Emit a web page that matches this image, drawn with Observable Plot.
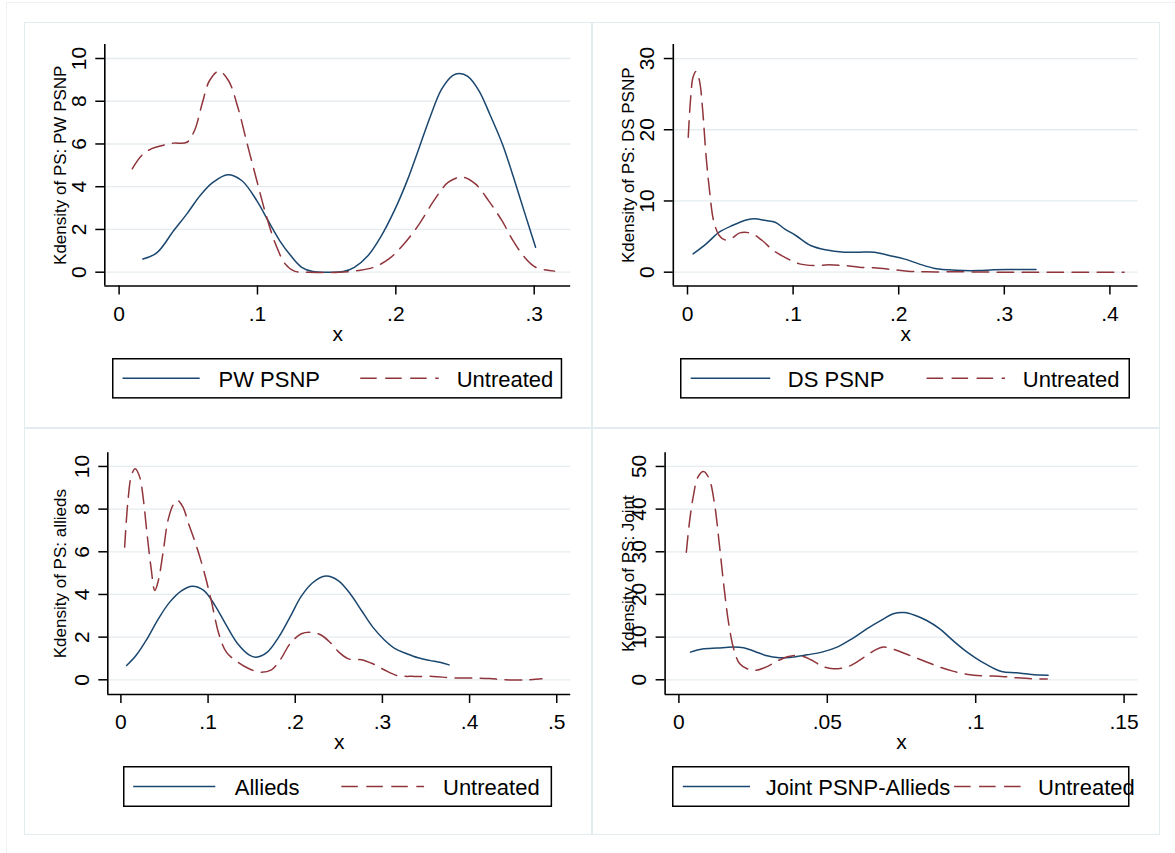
<!DOCTYPE html>
<html><head><meta charset="utf-8">
<script src="https://cdn.jsdelivr.net/npm/d3@7"></script>
<script src="https://cdn.jsdelivr.net/npm/@observablehq/plot@0.6"></script>
<style>
html,body{margin:0;padding:0;background:#fff;}
body{width:1175px;height:853px;position:relative;overflow:hidden;font-family:Arial,"Liberation Sans",sans-serif;}
.box{position:absolute;box-sizing:border-box;border:1.5px solid #e4ecef;}
</style></head><body>
<div class="box" style="left:5.5px;top:2px;width:1200px;height:900px;border-color:#edf2f4"></div>
<div class="box" style="left:24px;top:21.5px;width:568px;height:406px"></div>
<div class="box" style="left:591.5px;top:21.5px;width:568.5px;height:406px"></div>
<div class="box" style="left:24px;top:428px;width:568px;height:407px"></div>
<div class="box" style="left:591.5px;top:428px;width:568.5px;height:407px"></div>
<script>
// ---- data ----
const pwPsnp = [[0.0172,0.62],[0.0272,0.9],[0.0395,1.95],[0.049,2.73],[0.0586,3.59],[0.068,4.21],[0.0785,4.56],[0.0886,4.29],[0.0995,3.35],[0.1076,2.42],[0.116,1.48],[0.124,0.78],[0.132,0.23],[0.140,0.03],[0.151,0],[0.162,0.03],[0.170,0.23],[0.180,0.78],[0.189,1.64],[0.199,2.89],[0.208,4.25],[0.217,5.85],[0.225,7.3],[0.233,8.55],[0.241,9.2],[0.246,9.3],[0.252,9.16],[0.260,8.5],[0.268,7.38],[0.277,6.0],[0.285,4.45],[0.293,2.8],[0.301,1.17]];
const pwUntreated = [[0.0095,4.84],[0.0163,5.46],[0.0232,5.77],[0.0313,5.93],[0.0395,6.04],[0.049,6.08],[0.0545,6.63],[0.060,7.88],[0.0654,8.97],[0.0722,9.41],[0.079,8.97],[0.0858,7.72],[0.0926,6.0],[0.0995,4.29],[0.1063,2.65],[0.113,1.33],[0.120,0.39],[0.1267,0.05],[0.1376,0],[0.159,0],[0.173,0.08],[0.184,0.23],[0.195,0.62],[0.206,1.33],[0.217,2.26],[0.2275,3.35],[0.238,4.21],[0.248,4.45],[0.2575,4.13],[0.267,3.35],[0.2766,2.42],[0.2847,1.48],[0.293,0.70],[0.301,0.23],[0.3147,0.05]];
const dsPsnp = [[0.0053,2.57],[0.0177,3.98],[0.030,5.62],[0.0424,6.55],[0.0565,7.35],[0.0636,7.49],[0.0742,7.25],[0.083,7.02],[0.0919,6.08],[0.1025,5.15],[0.1166,3.74],[0.1307,3.14],[0.1484,2.81],[0.1625,2.81],[0.1767,2.81],[0.191,2.34],[0.205,1.87],[0.219,1.17],[0.2332,0.56],[0.2473,0.33],[0.2615,0.23],[0.2756,0.23],[0.29,0.33],[0.304,0.37],[0.318,0.37],[0.330,0.37]];
const dsUntreated = [[0.0007,18.95],[0.0028,24.1],[0.0053,27.4],[0.0081,28.2],[0.0113,26.9],[0.0141,23.2],[0.0177,16.1],[0.0212,11.0],[0.0247,7.25],[0.030,5.15],[0.0353,4.54],[0.0424,4.82],[0.0495,5.52],[0.0601,5.47],[0.0707,4.45],[0.0813,3.04],[0.0919,2.11],[0.106,1.17],[0.120,0.94],[0.134,1.03],[0.148,0.94],[0.1625,0.70],[0.1767,0.61],[0.191,0.42],[0.2085,0.14],[0.226,0.05],[0.2615,0.05],[0.297,0],[0.332,0],[0.3675,0],[0.4134,0]];
const alliedsTreated = [[0.0065,0.67],[0.0173,1.14],[0.030,1.92],[0.043,2.86],[0.056,3.64],[0.069,4.16],[0.082,4.39],[0.095,4.19],[0.108,3.48],[0.121,2.55],[0.134,1.69],[0.147,1.17],[0.155,1.06],[0.168,1.30],[0.181,2.0],[0.194,2.94],[0.207,3.92],[0.220,4.55],[0.235,4.86],[0.250,4.63],[0.263,4.03],[0.276,3.25],[0.289,2.47],[0.302,1.88],[0.315,1.45],[0.328,1.22],[0.341,1.03],[0.354,0.91],[0.367,0.81],[0.3765,0.70]];
const alliedsUntreated = [[0.0043,6.22],[0.0078,8.25],[0.0121,9.58],[0.0164,9.89],[0.0216,9.5],[0.0259,8.41],[0.030,6.84],[0.0345,5.28],[0.0389,4.19],[0.043,4.66],[0.0484,5.98],[0.054,7.47],[0.0596,8.17],[0.0648,8.41],[0.0712,8.09],[0.0777,7.31],[0.0864,6.3],[0.095,5.13],[0.1036,3.72],[0.1123,2.16],[0.121,1.30],[0.134,0.83],[0.147,0.52],[0.16,0.36],[0.1727,0.47],[0.1835,0.98],[0.194,1.69],[0.207,2.16],[0.218,2.23],[0.229,2.11],[0.2396,1.77],[0.25,1.30],[0.261,0.98],[0.276,0.94],[0.289,0.75],[0.302,0.47],[0.317,0.20],[0.3368,0.16],[0.358,0.16],[0.38,0.09],[0.406,0.08],[0.423,0.06],[0.440,0],[0.466,0],[0.483,0.05]];
const jointTreated = [[0.0039,6.48],[0.0079,7.19],[0.013,7.42],[0.018,7.66],[0.0218,7.5],[0.0256,6.64],[0.0293,5.7],[0.0338,5.16],[0.0382,5.31],[0.0432,5.86],[0.0482,6.48],[0.0533,7.66],[0.0583,9.61],[0.0633,11.95],[0.0684,14.06],[0.0722,15.47],[0.0759,15.78],[0.0797,15.08],[0.0835,13.9],[0.0879,11.95],[0.0923,9.22],[0.0961,7.03],[0.0999,5.16],[0.1036,3.59],[0.1087,1.95],[0.1137,1.64],[0.1188,1.25],[0.1244,1.09]];
const jointUntreated = [[0.0025,29.9],[0.0035,36.6],[0.0048,42.8],[0.0064,47.5],[0.0083,48.8],[0.0102,47.1],[0.012,41.25],[0.0136,31.9],[0.0152,21.7],[0.0168,13.1],[0.0186,6.9],[0.0205,3.75],[0.023,2.58],[0.0256,2.19],[0.0293,2.97],[0.0331,4.38],[0.0369,5.47],[0.0407,5.7],[0.0445,4.69],[0.0482,3.2],[0.052,2.58],[0.0571,3.13],[0.0621,5.16],[0.0659,6.88],[0.069,7.66],[0.0728,7.03],[0.0772,5.86],[0.0822,4.53],[0.0873,3.13],[0.0923,2.03],[0.0974,1.25],[0.1024,0.94],[0.1087,0.78],[0.1137,0.47],[0.1188,0.23],[0.1241,0.16]];

const xTicks1 = [0, 0.1, 0.2, 0.3];
const xTicks2 = [0, 0.1, 0.2, 0.3, 0.4];
const xTicks3 = [0, 0.1, 0.2, 0.3, 0.4, 0.5];
const xTicks4 = [0, 0.05, 0.1, 0.15];
const yTicks1 = [0, 2, 4, 6, 8, 10];
const yTicks2 = [0, 10, 20, 30];
const yTicks3 = [0, 2, 4, 6, 8, 10];
const yTicks4 = [0, 10, 20, 30, 40, 50];
const yTitles = ["Kdensity of PS: PW PSNP", "Kdensity of PS: DS PSNP", "Kdensity of PS: allieds", "Kdensity of PS: Joint"];
const treatedLabels = ["PW PSNP", "DS PSNP", "Allieds", "Joint PSNP-Allieds"];
const untreatedLabel = "Untreated";
const xTitle = "x";

// ---- styling / layout ----
const NAVY = "#1a476f", MAROON = "#90353b", GRID = "#e4ecef";
const DASH = "16.5,8.5";
const FONT = 'Arial, "Liberation Sans", sans-serif';
const fmt = d => d === 0 ? "0" : String(d).replace(/^0\./, ".");
const W = 567, H = 330;

const panels = [
  {left:24, top:22, axL:104.3, axR:570.2, axT:44, axB:285.5, xDomain:[-0.01034,0.32638], yDomain:[-0.646,10.655], xTicks:xTicks1, yTicks:yTicks1, treated:pwPsnp, untreated:pwUntreated, title:yTitles[0]},
  {left:592, top:22, axL:672.8, axR:1137.5, axT:44, axB:285.5, xDomain:[-0.01345,0.4266], yDomain:[-1.94,31.97], xTicks:xTicks2, yTicks:yTicks2, treated:dsPsnp, untreated:dsUntreated, title:yTitles[1]},
  {left:24, top:428, axL:107.3, axR:570.2, axT:452.3, axB:694, xDomain:[-0.01503,0.5160], yDomain:[-0.689,10.64], xTicks:xTicks3, yTicks:yTicks3, treated:alliedsTreated, untreated:alliedsUntreated, title:yTitles[2]},
  {left:592, top:428, axL:664.6, axR:1137.4, axT:452.3, axB:694, xDomain:[-0.00465,0.15465], yDomain:[-3.45,53.2], xTicks:xTicks4, yTicks:yTicks4, treated:jointTreated, untreated:jointUntreated, title:yTitles[3]}
];

const legends = [
  {left:111.8, top:357.7, w:450.2, h:40.6, l1:[10.5,87.7], t1:106.5, l2:[248.2,326.7], t2:344.7},
  {left:680, top:357.7, w:450, h:40.6, l1:[10.7,90.2], t1:107.8, l2:[246.6,325], t2:342.8},
  {left:123.4, top:765.7, w:429.1, h:41, l1:[10.2,92.3], t1:111.8, l2:[218.3,301.1], t2:320},
  {left:671.7, top:765.7, w:457.5, h:41, l1:[10.8,78], t1:93.7, l2:[282.1,351.1], t2:366.1}
];

panels.forEach((p, i) => {
  const ml = p.axL - p.left, mr = p.left + W - p.axR, mt = p.axT - p.top, mb = p.top + H - p.axB;
  const chart = Plot.plot({
    width: W, height: H, marginLeft: ml, marginRight: mr, marginTop: mt, marginBottom: mb,
    x: {domain: p.xDomain}, y: {domain: p.yDomain},
    style: {fontFamily: FONT, fontSize: "21px", color: "#000", background: "transparent", overflow: "visible"},
    marks: [
      Plot.gridY(p.yTicks, {stroke: GRID, strokeOpacity: 1, strokeWidth: 1.3}),
      Plot.axisX(p.xTicks, {tickSize: 9, tickPadding: 11, tickFormat: fmt, fontSize: 21, label: null, strokeWidth: 1.5, fill: "#000"}),
      Plot.axisY(p.yTicks, {tickSize: 9, tickRotate: -90, tickPadding: 10, tickFormat: fmt, fontSize: 21, label: null, strokeWidth: 1.5, fill: "#000"}),
      Plot.ruleX([p.xDomain[0]], {stroke: "#000", strokeWidth: 1.6}),
      Plot.ruleY([p.yDomain[0]], {stroke: "#000", strokeWidth: 1.6}),
      Plot.line(p.treated, {x: d => d[0], y: d => d[1], stroke: NAVY, strokeWidth: 1.5, curve: "catmull-rom"}),
      Plot.line(p.untreated, {x: d => d[0], y: d => d[1], stroke: MAROON, strokeWidth: 1.5, strokeDasharray: DASH, curve: "catmull-rom"}),
      Plot.text([p.title], {frameAnchor: "left", textAnchor: "middle", lineAnchor: "middle", rotate: -90, dx: (p.left + 35.7) - p.axL, fontSize: 17, fill: "#000"}),
      Plot.text([xTitle], {frameAnchor: "bottom", textAnchor: "middle", dy: 48, fontSize: 21, fill: "#000", lineAnchor: "middle"})
    ]
  });
  chart.style.position = "absolute";
  chart.style.left = p.left + "px";
  chart.style.top = p.top + "px";
  document.body.appendChild(chart);

  const L = legends[i];
  const svg = d3.create("svg").attr("width", L.w).attr("height", L.h)
    .style("position", "absolute").style("left", L.left + "px").style("top", L.top + "px").style("overflow", "visible")
    .style("font-family", FONT);
  svg.append("rect").attr("x", 0.75).attr("y", 0.75).attr("width", L.w - 1.5).attr("height", L.h - 1.5)
    .attr("fill", "#fff").attr("stroke", "#000").attr("stroke-width", 1.5);
  const cy = L.h / 2;
  svg.append("line").attr("x1", L.l1[0]).attr("x2", L.l1[1]).attr("y1", cy).attr("y2", cy).attr("stroke", NAVY).attr("stroke-width", 1.5);
  svg.append("line").attr("x1", L.l2[0]).attr("x2", L.l2[1]).attr("y1", cy).attr("y2", cy).attr("stroke", MAROON).attr("stroke-width", 1.5).attr("stroke-dasharray", DASH);
  svg.append("text").attr("x", L.t1).attr("y", cy + 8.5).attr("font-size", 22).attr("fill", "#000").text(treatedLabels[i]);
  svg.append("text").attr("x", L.t2).attr("y", cy + 8.5).attr("font-size", 22).attr("fill", "#000").text(untreatedLabel);
  document.body.appendChild(svg.node());
});
</script>
</body></html>
